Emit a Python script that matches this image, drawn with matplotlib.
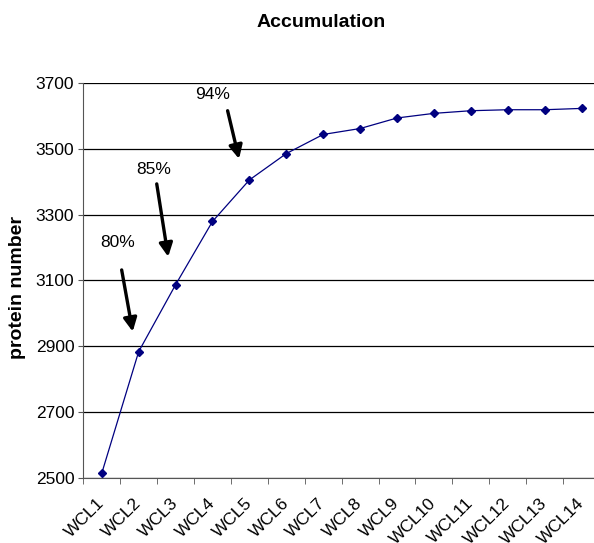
import matplotlib
matplotlib.use("Agg")
import matplotlib.pyplot as plt
import numpy as np

plt.rcParams['font.family'] = ['Liberation Sans', 'DejaVu Sans']

categories = ["WCL1", "WCL2", "WCL3", "WCL4", "WCL5", "WCL6", "WCL7",
              "WCL8", "WCL9", "WCL10", "WCL11", "WCL12", "WCL13", "WCL14"]
proteins = [2515, 2884, 3087, 3279, 3405, 3485, 3543, 3561, 3593, 3607,
            3615, 3618, 3618, 3622]
yticks = [2500, 2700, 2900, 3100, 3300, 3500, 3700]
notes = ["80%", "85%", "94%"]

fig = plt.figure(figsize=(5.94, 5.43), dpi=100)
ax = fig.add_axes([0.1402, 0.1192, 0.87, 0.7285])

x = np.arange(len(categories))
ax.plot(x, proteins, color="#000080", linewidth=0.9, marker="D", markersize=4.5,
        markerfacecolor="#000080", markeredgecolor="#000080")

ax.set_xlim(-0.5, len(categories) - 0.5)
ax.set_ylim(2500, 3700)
ax.set_yticks(yticks)
ax.yaxis.grid(True, color="black", linewidth=0.9)
ax.set_axisbelow(True)

ax.set_xticks(x)
ax.set_xticklabels(categories, rotation=45, ha="right", va="center",
                   rotation_mode="anchor", fontsize=12.5)
ax.set_xticks(np.arange(len(categories) + 1) - 0.5, minor=True)
ax.tick_params(axis="x", which="major", length=0, pad=16)
ax.tick_params(axis="x", which="minor", length=4, color="#555555")
ax.tick_params(axis="y", length=3.5, pad=3, color="#555555", labelsize=12.5)

for s in ["top", "right"]:
    ax.spines[s].set_visible(False)
ax.spines["left"].set_color("#555555")
ax.spines["bottom"].set_color("#555555")

fig.text(0.0303, 0.4705, "protein number", rotation=90, ha="center", va="center",
         fontsize=14, fontweight="bold")
fig.text(0.540, 0.959, "Accumulation", ha="center", va="center", fontsize=14, fontweight="bold")

# arrows with percentage labels
text_pos = [(0.44, 3215), (1.42, 3438), (3.0, 3663)]
tails = [(0.54, 3132), (1.49, 3393), (3.41, 3615)]
heads = [(0.84, 2945), (1.80, 3172), (3.72, 3469)]
for lab, tp, tl, hd in zip(notes, text_pos, tails, heads):
    ax.text(tp[0], tp[1], lab, ha="center", va="center", fontsize=12.5)
    ax.annotate("", xy=hd, xytext=tl,
                arrowprops=dict(arrowstyle="-|>,head_length=0.8,head_width=0.4",
                                color="black", linewidth=2.4, shrinkA=0, shrinkB=0))

fig.savefig("out.png", dpi=100)
